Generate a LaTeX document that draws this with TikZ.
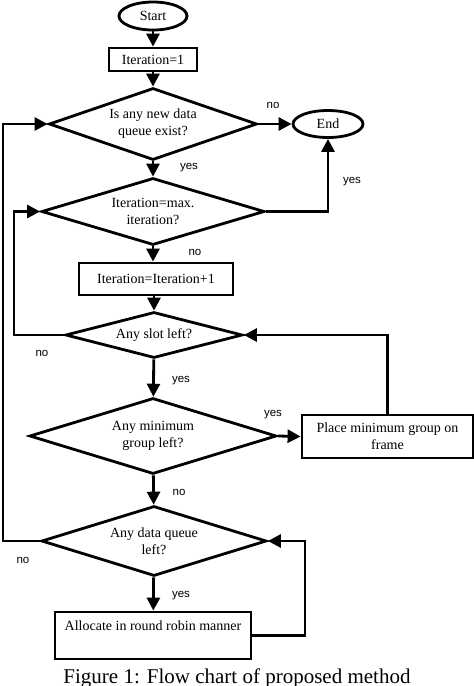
\documentclass[tikz,border=0pt]{standalone}
\usepackage{fontspec}
\setmainfont{Liberation Serif}
\newfontfamily\lblfont{Liberation Sans}
\usetikzlibrary{shapes.geometric,arrows.meta}
\begin{document}
\begin{tikzpicture}[x=1pt,y=-1pt,line width=2.8pt,
		font=\fontsize{14}{17}\selectfont,
		term/.style={draw,ellipse,inner sep=0pt},
		proc/.style={draw,rectangle,inner sep=0pt,align=center},
		dec/.style={draw,diamond,aspect=3,inner sep=0pt,align=center},
		flow/.style={-{Triangle[length=13pt,width=13pt]}},
		lbl/.style={font=\lblfont\fontsize{11.5}{13}\selectfont}]
	\useasboundingbox (0,0) rectangle (474,686);
	\coordinate (L1) at (3,0);
	\coordinate (L2) at (14,0);
	\coordinate (R) at (305,0);
	\node[term,minimum width=68pt,minimum height=28pt] (S) at (153,16) {Start};
	\node[proc,minimum width=88pt,minimum height=23pt] (I) at (153,59.5) {Iteration=1};
	\node[dec,minimum width=208pt,minimum height=72pt] (D1) at (153,124) {Is any new data\\queue exist?};
	\node[term,minimum width=70pt,minimum height=27pt] (E) at (328,124) {End};
	\node[dec,minimum width=223pt,minimum height=67pt] (D2) at (153,211.5) {Iteration=max.\\iteration?};
	\node[proc,minimum width=154pt,minimum height=32pt] (P1) at (156,279) {Iteration=Iteration+1};
	\node[dec,minimum width=177pt,minimum height=46pt] (D3) at (154,335) {Any slot left?};
	\node[dec,minimum width=247pt,minimum height=76pt] (D4) at (153,436) {Any minimum\\group left?};
	\node[proc,minimum width=171pt,minimum height=43pt] (P2) at (387.5,436.5) {Place minimum group on\\frame};
	\node[dec,minimum width=225pt,minimum height=70pt] (D5) at (154,541) {Any data queue\\left?};
	\node[proc,minimum width=196pt,minimum height=47pt,inner ysep=4.5pt,text height=14pt,text depth=24pt] (P3) at (153,635.5) {Allocate in round robin manner};
	% yes / no
	\node[lbl] (n1) at (273,105) {no};
	\node[lbl] (y1) at (189,168) {yes};
	\node[lbl] (y2) at (352,182) {yes};
	\node[lbl] (n2) at (195,252) {no};
	\node[lbl] (n3) at (42,353) {no};
	\node[lbl] (y3) at (181,381) {yes};
	\node[lbl] (y4) at (273,415) {yes};
	\node[lbl] (n4) at (179,492) {no};
	\node[lbl] (n5) at (23,560) {no};
	\node[lbl] (y5) at (181,596) {yes};
	% arrows
	\draw[flow] (S) -- (I);
	\draw[flow] (I) -- (D1);
	\draw[flow] (D1.east) -- (E.west);
	\draw[flow] (D1) -- (D2);
	\draw[flow] (D2.east) -| (E.south);
	\draw[flow] (D2.south) -- (D2.south |- P1.north);
	\draw[flow] (D3.north |- P1.south) -- (D3.north);
	\draw[flow] (D3.west) -- (D3.west -| L2) -- (D2.west -| L2) -- (D2.west);
	\draw[flow] (D3) -- (D4);
	\draw[flow] (D4.east) -- (P2.west);
	\draw[flow] (P2.north) |- (D3.east);
	\draw[flow] (D4) -- (D5);
	\draw[flow] (D5.west) -- (D5.west -| L1) -- (D1.west -| L1) -- (D1.west);
	\draw[flow] (D5) -- (P3);
	\draw[flow] (P3.east) -- (P3.east -| R) |- (D5.east);
	\node[font=\fontsize{21}{25}\selectfont,anchor=base] (cap) at (237,683) {Figure 1: Flow chart of proposed method};
\end{tikzpicture}
\end{document}
